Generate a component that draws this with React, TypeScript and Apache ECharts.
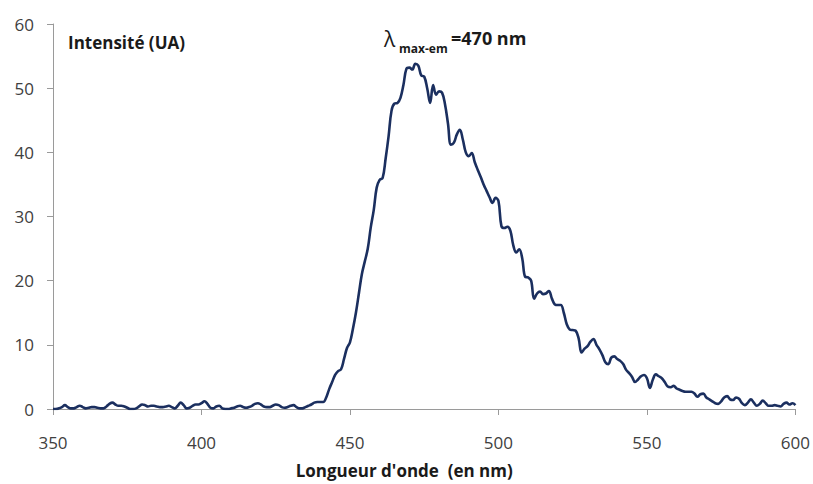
import React, { useEffect, useRef } from "react";
import * as echarts from "echarts";

const wavelengthStart = 350;
const intensity: number[] = [
  // 350-359
  0.0, 0.0, 0.1, 0.3, 0.6, 0.3, 0.1, 0.1, 0.3, 0.5,
  // 360-369
  0.3, 0.1, 0.2, 0.3, 0.3, 0.2, 0.1, 0.1, 0.4, 0.8,
  // 370-379
  1.0, 0.7, 0.5, 0.5, 0.4, 0.2, 0.0, 0.0, 0.1, 0.4,
  // 380-389
  0.7, 0.6, 0.4, 0.5, 0.5, 0.4, 0.3, 0.3, 0.4, 0.5,
  // 390-399
  0.3, 0.1, 0.5, 1.0, 0.6, 0.1, 0.2, 0.5, 0.7, 0.7,
  // 400-409
  0.9, 1.2, 0.8, 0.2, 0.1, 0.4, 0.5, 0.1, 0.0, 0.0,
  // 410-419
  0.1, 0.2, 0.4, 0.5, 0.3, 0.2, 0.3, 0.5, 0.8, 0.9,
  // 420-429
  0.7, 0.4, 0.3, 0.3, 0.5, 0.7, 0.6, 0.3, 0.2, 0.3,
  // 430-439
  0.5, 0.6, 0.3, 0.1, 0.1, 0.3, 0.5, 0.7, 1.0, 1.1,
  // 440-449
  1.1, 1.1, 1.8, 3.1, 4.2, 5.3, 5.9, 6.2, 7.8, 9.5,
  // 450-459
  10.4, 12.5, 15.0, 18.0, 21.0, 23.0, 25.0, 28.3, 31.0, 34.5,
  // 460-469
  35.7, 36.0, 39.0, 42.5, 46.5, 47.6, 47.7, 48.5, 50.5, 53.0,
  // 470-479
  53.2, 52.9, 53.8, 53.5, 52.0, 51.8, 50.0, 47.7, 50.5, 49.0,
  // 480-489
  49.5, 49.3, 47.5, 44.5, 41.2, 41.5, 42.8, 43.5, 42.0, 40.0,
  // 490-499
  39.4, 39.9, 38.5, 37.3, 36.2, 35.0, 34.0, 33.0, 32.1, 32.9,
  // 500-509
  32.4, 28.5, 28.2, 28.4, 27.8, 25.5, 24.4, 24.9, 23.5, 20.6,
  // 510-519
  20.5, 20.0, 17.2, 18.0, 18.3, 17.9, 18.0, 18.4, 17.2, 16.3,
  // 520-529
  16.2, 16.2, 15.0, 13.2, 12.4, 12.3, 12.2, 11.0, 8.8, 9.4,
  // 530-539
  9.8, 10.5, 10.9, 10.0, 9.3, 8.4, 7.3, 7.0, 8.0, 8.2,
  // 540-549
  7.8, 7.5, 7.0, 6.1, 5.6, 5.0, 4.2, 4.6, 5.1, 5.3,
  // 550-559
  4.8, 3.3, 4.6, 5.4, 5.1, 4.8, 4.2, 3.5, 3.4, 3.6,
  // 560-569
  3.2, 3.0, 2.8, 2.7, 2.7, 2.7, 2.4, 1.9, 2.3, 2.4,
  // 570-579
  1.8, 1.5, 1.2, 0.9, 0.8, 1.2, 1.8, 2.0, 1.5, 1.4,
  // 580-589
  1.8, 1.6, 0.9, 0.6, 1.0, 1.5, 1.0, 0.5, 0.8, 1.3,
  // 590-600
  0.9, 0.5, 0.5, 0.6, 0.5, 0.4, 0.8, 1.0, 0.7, 0.9, 0.6,
];

const xTicks = { min: 350, max: 600, interval: 50 };
const yTicks = { min: 0, max: 60, interval: 10 };
const xAxisTitle = "Longueur d'onde  (en nm)";
const yAxisTitle = "Intensité (UA)";
const peakLabel = { symbol: "λ", sub: "max-em", value: "=470 nm" };

export default function App() {
  const ref = useRef<HTMLDivElement>(null);
  useEffect(() => {
    if (!ref.current) return;
    const chart = echarts.init(ref.current, null, { renderer: "svg" });
    const data = intensity.map((v, i) => [wavelengthStart + i, v]);
    const font = "'Open Sans', 'Liberation Sans', sans-serif";
    const axisColor = "#9a9a9a";
    chart.setOption({
      animation: false,
      backgroundColor: "#ffffff",
      grid: { left: 53, right: 16, top: 24, bottom: 74, containLabel: false },
      xAxis: {
        type: "value",
        min: xTicks.min,
        max: xTicks.max,
        interval: xTicks.interval,
        name: xAxisTitle,
        nameLocation: "middle",
        nameGap: 53,
        nameTextStyle: {
          fontFamily: font,
          fontWeight: "bold",
          fontSize: 17,
          color: "#1a1a1a",
          padding: [0, 40, 0, 0],
        },
        axisLine: { show: true, lineStyle: { color: axisColor, width: 1 } },
        axisTick: { show: true, inside: false, length: 6, lineStyle: { color: axisColor } },
        axisLabel: { margin: 25, fontFamily: font, fontSize: 17, color: "#404040" },
        splitLine: { show: false },
      },
      yAxis: {
        type: "value",
        min: yTicks.min,
        max: yTicks.max,
        interval: yTicks.interval,
        axisLine: { show: true, lineStyle: { color: axisColor, width: 1 } },
        axisTick: { show: true, inside: false, length: 6, lineStyle: { color: axisColor } },
        axisLabel: { margin: 19, fontFamily: font, fontSize: 17, color: "#404040" },
        splitLine: { show: false },
      },
      series: [
        {
          type: "line",
          data,
          showSymbol: false,
          smooth: 0.4,
          lineStyle: { color: "#1b2f5f", width: 2.6 },
        },
      ],
      graphic: [
        {
          type: "text",
          left: 68,
          top: 34,
          style: {
            text: yAxisTitle,
            fontFamily: font,
            fontWeight: "bold",
            fontSize: 17,
            fill: "#1a1a1a",
          },
        },
        {
          type: "text",
          left: 384,
          top: 28,
          style: {
            text: peakLabel.symbol,
            fontFamily: font,
            fontSize: 21,
            fill: "#1a1a1a",
          },
        },
        {
          type: "text",
          left: 399,
          top: 42,
          style: {
            text: peakLabel.sub,
            fontFamily: font,
            fontWeight: "bold",
            fontSize: 12,
            fill: "#1a1a1a",
          },
        },
        {
          type: "text",
          left: 451,
          top: 29,
          style: {
            text: peakLabel.value,
            fontFamily: font,
            fontWeight: "bold",
            fontSize: 18,
            fill: "#1a1a1a",
          },
        },
      ],
    });
    return () => chart.dispose();
  }, []);
  return (
    <div
      ref={ref}
      style={{ position: "fixed", left: 0, top: 0, width: 813, height: 484, background: "#fff" }}
    />
  );
}
